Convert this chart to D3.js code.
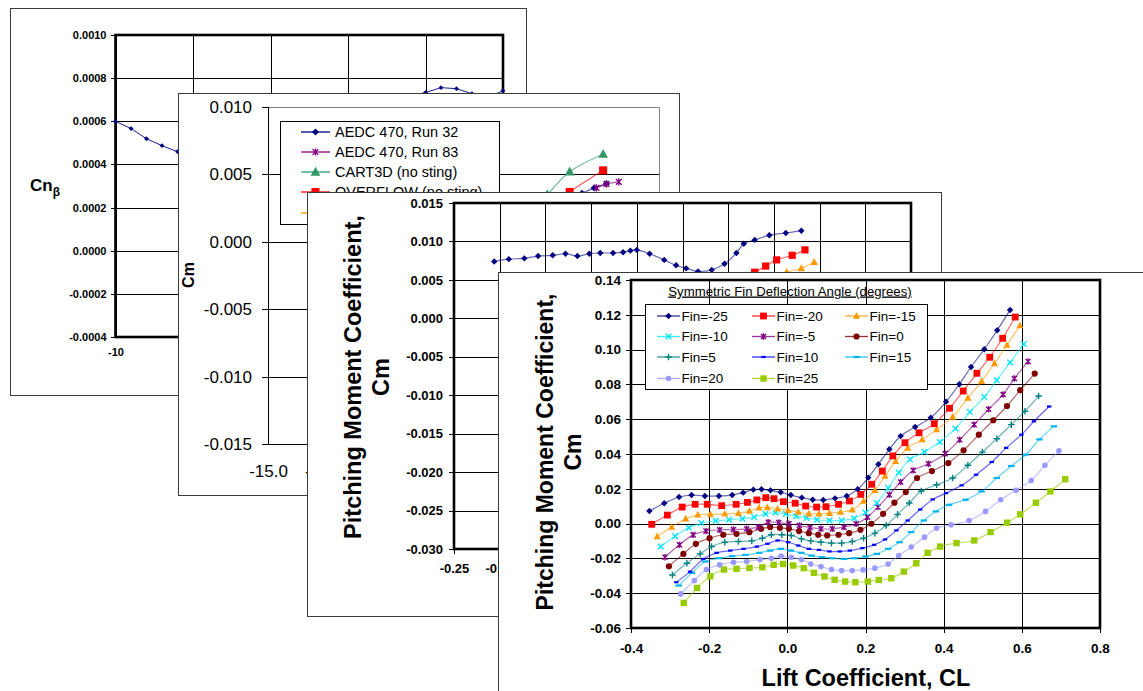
<!DOCTYPE html>
<html><head><meta charset="utf-8">
<script src="https://cdn.jsdelivr.net/npm/d3@7"></script>
<style>
html,body{margin:0;padding:0;background:#fff;}
svg{display:block;}
</style></head><body>
<script>
// ================= DATA =================
// Panel 1 : Cn_beta
const p1X      = [-10, -9, -8, -7, -6, 10, 11, 12, 13, 14, 15];
const p1CnBeta = [0.00060, 0.000566, 0.000519, 0.000487, 0.000459, 0.000733, 0.000756, 0.000751, 0.000728, 0.00071, 0.000742];
const p1XTicks = [-10, -5, 0, 5, 10, 15];
const p1XLabelTicks = [-10];            // the only x label not covered by the next sheet
const p1YTicks = [-0.0004, -0.0002, 0, 0.0002, 0.0004, 0.0006, 0.0008, 0.0010];

// Panel 2 : Cm vs alpha (legend series)
const p2Names  = ["AEDC 470, Run 32", "AEDC 470, Run 83", "CART3D (no sting)", "OVERFLOW (no sting)", ""];
const p2Run32  = [[13.1, 0.0036], [14.2, 0.0040], [15.3, 0.0043]];
const p2Run83  = [[14.4, 0.0040], [15.3, 0.0043], [16.4, 0.00445]];
const p2Cart3d = [[8, 0.0018], [10, 0.0035], [12, 0.0052], [15, 0.0065]];
const p2Overflow = [[10, 0.0025], [12, 0.0037], [15, 0.0053]];
const p2XTicks = [-15, -10, -5, 0, 5, 10, 15, 20];
const p2XLabelTicks = [-15, -10];
const p2YTicks = [-0.015, -0.010, -0.005, 0, 0.005, 0.010];

// Panel 3 : Cm vs CL
const p3Navy = [[-0.206,0.0074],[-0.190,0.0077],[-0.173,0.0078],[-0.158,0.0081],[-0.142,0.0082],[-0.128,0.0084],[-0.115,0.0081],[-0.102,0.0084],[-0.090,0.0085],[-0.076,0.0085],[-0.065,0.0086],[-0.057,0.0088],[-0.050,0.0089],[-0.036,0.0084],[-0.020,0.0076],[-0.007,0.0069],[0.004,0.0065],[0.017,0.0061],[0.032,0.0063],[0.046,0.0071],[0.059,0.0085],[0.067,0.0097],[0.079,0.0102],[0.095,0.0108],[0.113,0.0111],[0.130,0.0114]];
const p3Red    = [[0.062,0.0052],[0.079,0.0060],[0.091,0.0068],[0.103,0.0076],[0.120,0.0082],[0.134,0.0089]];
const p3Orange = [[0.095,0.0052],[0.114,0.0060],[0.130,0.0065],[0.144,0.0073]];
const p3XTicks = [-0.25,-0.20,-0.15,-0.10,-0.05,0,0.05,0.10,0.15,0.20,0.25];
const p3XLabelTicks = [-0.25, -0.20];
const p3YTicks = [-0.030,-0.025,-0.020,-0.015,-0.010,-0.005,0,0.005,0.010,0.015];

// Panel 4 : Cm vs CL for symmetric fin deflection
const finNames = ["Fin=-25","Fin=-20","Fin=-15","Fin=-10","Fin=-5","Fin=0","Fin=5","Fin=10","Fin=15","Fin=20","Fin=25"];
const finM25 = [[-0.353,0.0072],[-0.315,0.0117],[-0.277,0.0153],[-0.245,0.0164],[-0.211,0.0159],[-0.175,0.0159],[-0.141,0.0164],[-0.113,0.0178],[-0.087,0.0195],[-0.066,0.0197],[-0.043,0.0191],[-0.017,0.0180],[0.009,0.0164],[0.037,0.0149],[0.065,0.0137],[0.092,0.0136],[0.122,0.0145],[0.152,0.0159],[0.180,0.0197],[0.207,0.0264],[0.233,0.0341],[0.261,0.0427],[0.290,0.0503],[0.327,0.0555],[0.367,0.0609],[0.406,0.0701],[0.440,0.0801],[0.470,0.0900],[0.504,0.1002],[0.537,0.1111],[0.570,0.1228]];
const finM20 = [[-0.347,-0.0004],[-0.307,0.0049],[-0.269,0.0095],[-0.236,0.0111],[-0.205,0.0111],[-0.168,0.0103],[-0.131,0.0111],[-0.102,0.0122],[-0.078,0.0136],[-0.055,0.0149],[-0.034,0.0143],[-0.010,0.0126],[0.020,0.0117],[0.047,0.0101],[0.075,0.0095],[0.099,0.0097],[0.131,0.0111],[0.159,0.0130],[0.188,0.0168],[0.216,0.0226],[0.243,0.0302],[0.270,0.0389],[0.301,0.0465],[0.337,0.0522],[0.376,0.0574],[0.415,0.0663],[0.450,0.0762],[0.485,0.0864],[0.518,0.0956],[0.551,0.1065],[0.583,0.1187]];
const finM15 = [[-0.333,-0.0074],[-0.296,-0.0020],[-0.260,0.0028],[-0.229,0.0051],[-0.197,0.0053],[-0.160,0.0056],[-0.125,0.0060],[-0.097,0.0072],[-0.072,0.0091],[-0.051,0.0093],[-0.025,0.0085],[0.002,0.0076],[0.028,0.0066],[0.055,0.0056],[0.081,0.0056],[0.108,0.0060],[0.136,0.0066],[0.166,0.0079],[0.195,0.0129],[0.224,0.0191],[0.250,0.0273],[0.277,0.0358],[0.308,0.0435],[0.345,0.0483],[0.382,0.0540],[0.423,0.0613],[0.462,0.0722],[0.497,0.0818],[0.530,0.0920],[0.562,0.1026],[0.595,0.1138]];
const finM10 = [[-0.324,-0.0132],[-0.287,-0.0072],[-0.252,-0.0024],[-0.220,0.0003],[-0.183,0.0016],[-0.149,0.0022],[-0.115,0.0028],[-0.085,0.0037],[-0.056,0.0056],[-0.030,0.0062],[-0.004,0.0056],[0.023,0.0043],[0.049,0.0033],[0.076,0.0022],[0.108,0.0018],[0.139,0.0018],[0.171,0.0031],[0.200,0.0062],[0.229,0.0118],[0.258,0.0204],[0.285,0.0293],[0.314,0.0369],[0.351,0.0412],[0.390,0.0469],[0.430,0.0546],[0.467,0.0642],[0.504,0.0728],[0.536,0.0824],[0.570,0.0926],[0.605,0.1032]];
const finM5 = [[-0.313,-0.0193],[-0.276,-0.0122],[-0.241,-0.0065],[-0.208,-0.0043],[-0.173,-0.0036],[-0.138,-0.0034],[-0.104,-0.0030],[-0.074,-0.0020],[-0.049,0.0008],[-0.022,0.0006],[0.004,-0.0001],[0.031,-0.0011],[0.058,-0.0022],[0.086,-0.0030],[0.115,-0.0030],[0.145,-0.0020],[0.176,-0.0001],[0.205,0.0037],[0.232,0.0095],[0.261,0.0166],[0.290,0.0239],[0.322,0.0306],[0.361,0.0344],[0.404,0.0402],[0.441,0.0482],[0.478,0.0569],[0.515,0.0657],[0.552,0.0742],[0.581,0.0834],[0.616,0.0932]];
const fin0 = [[-0.303,-0.0245],[-0.266,-0.0174],[-0.234,-0.0116],[-0.199,-0.0084],[-0.164,-0.0064],[-0.130,-0.0059],[-0.097,-0.0049],[-0.067,-0.0030],[-0.044,-0.0020],[-0.019,-0.0024],[0.004,-0.0030],[0.030,-0.0043],[0.055,-0.0055],[0.079,-0.0064],[0.102,-0.0068],[0.131,-0.0064],[0.158,-0.0055],[0.187,-0.0036],[0.215,-0.0001],[0.245,0.0056],[0.274,0.0120],[0.303,0.0181],[0.332,0.0262],[0.370,0.0302],[0.412,0.0348],[0.451,0.0421],[0.490,0.0511],[0.527,0.0594],[0.562,0.0676],[0.596,0.0767],[0.633,0.0862]];
const finP5 = [[-0.294,-0.0295],[-0.257,-0.0228],[-0.223,-0.0174],[-0.194,-0.0132],[-0.160,-0.0107],[-0.125,-0.0103],[-0.091,-0.0099],[-0.064,-0.0084],[-0.041,-0.0064],[-0.014,-0.0064],[0.010,-0.0068],[0.036,-0.0088],[0.060,-0.0099],[0.086,-0.0107],[0.113,-0.0112],[0.139,-0.0112],[0.166,-0.0103],[0.195,-0.0084],[0.224,-0.0055],[0.253,-0.0011],[0.282,0.0053],[0.312,0.0118],[0.343,0.0187],[0.382,0.0223],[0.423,0.0262],[0.462,0.0335],[0.499,0.0411],[0.536,0.0488],[0.573,0.0569],[0.608,0.0646],[0.643,0.0733]];
const finP10 = [[-0.284,-0.0337],[-0.249,-0.0276],[-0.215,-0.0203],[-0.181,-0.0168],[-0.146,-0.0155],[-0.112,-0.0145],[-0.078,-0.0132],[-0.051,-0.0116],[-0.025,-0.0097],[0.002,-0.0107],[0.028,-0.0126],[0.055,-0.0145],[0.081,-0.0151],[0.108,-0.0160],[0.134,-0.0160],[0.160,-0.0155],[0.192,-0.0141],[0.222,-0.0122],[0.250,-0.0091],[0.279,-0.0039],[0.308,0.0018],[0.340,0.0081],[0.372,0.0139],[0.406,0.0175],[0.446,0.0220],[0.483,0.0281],[0.523,0.0354],[0.560,0.0435],[0.599,0.0511],[0.631,0.0588],[0.670,0.0673]];
const finP15 = [[-0.278,-0.0356],[-0.244,-0.0283],[-0.210,-0.0218],[-0.175,-0.0199],[-0.141,-0.0187],[-0.107,-0.0180],[-0.072,-0.0168],[-0.044,-0.0155],[-0.017,-0.0145],[0.009,-0.0155],[0.036,-0.0168],[0.062,-0.0184],[0.089,-0.0193],[0.115,-0.0199],[0.145,-0.0203],[0.171,-0.0199],[0.200,-0.0189],[0.229,-0.0174],[0.258,-0.0145],[0.287,-0.0107],[0.317,-0.0049],[0.349,0.0018],[0.380,0.0070],[0.414,0.0108],[0.456,0.0137],[0.497,0.0185],[0.536,0.0262],[0.573,0.0331],[0.610,0.0396],[0.645,0.0484],[0.682,0.0559]];
const finP20 = [[-0.273,-0.0404],[-0.238,-0.0327],[-0.207,-0.0264],[-0.173,-0.0237],[-0.138,-0.0222],[-0.104,-0.0218],[-0.070,-0.0207],[-0.041,-0.0199],[-0.016,-0.0187],[0.010,-0.0193],[0.036,-0.0207],[0.060,-0.0232],[0.086,-0.0247],[0.113,-0.0264],[0.139,-0.0270],[0.166,-0.0270],[0.194,-0.0266],[0.224,-0.0256],[0.258,-0.0232],[0.285,-0.0183],[0.317,-0.0135],[0.351,-0.0078],[0.382,-0.0026],[0.419,-0.0007],[0.465,0.0018],[0.507,0.0070],[0.546,0.0137],[0.585,0.0191],[0.624,0.0248],[0.659,0.0335],[0.695,0.0418]];
const finP25 = [[-0.265,-0.0456],[-0.231,-0.0370],[-0.197,-0.0303],[-0.162,-0.0264],[-0.130,-0.0260],[-0.097,-0.0255],[-0.064,-0.0251],[-0.035,-0.0237],[-0.011,-0.0232],[0.015,-0.0241],[0.042,-0.0256],[0.068,-0.0283],[0.095,-0.0304],[0.121,-0.0323],[0.148,-0.0333],[0.174,-0.0337],[0.206,-0.0333],[0.234,-0.0324],[0.266,-0.0314],[0.298,-0.0276],[0.330,-0.0228],[0.359,-0.0168],[0.391,-0.0132],[0.433,-0.0112],[0.478,-0.0097],[0.520,-0.0049],[0.562,0.0005],[0.596,0.0053],[0.636,0.0120],[0.673,0.0185],[0.711,0.0255]];
const p4XTicks = [-0.4,-0.2,0,0.2,0.4,0.6,0.8];
const p4YTicks = [-0.06,-0.04,-0.02,0,0.02,0.04,0.06,0.08,0.10,0.12,0.14];

// ================= STYLES =================
const FONT = '"Liberation Sans", Arial, Helvetica, sans-serif';
const finStyles = [
  {color:'#000080', marker:'diamond',  size:3.2},
  {color:'#ff0000', marker:'square',   size:3.4},
  {color:'#ff9900', marker:'triangle', size:3.4},
  {color:'#00e5ff', marker:'x',        size:2.8},
  {color:'#800080', marker:'asterisk', size:3.2},
  {color:'#800000', marker:'circle',   size:3.1},
  {color:'#008080', marker:'plus',     size:3.3},
  {color:'#0000ff', marker:'dash',     size:2.2},
  {color:'#00b4f0', marker:'dash',     size:3.2},
  {color:'#9999ff', marker:'circle',   size:2.8},
  {color:'#99cc00', marker:'square',   size:3.2}
];
const finData = [finM25, finM20, finM15, finM10, finM5, fin0, finP5, finP10, finP15, finP20, finP25];

const svg = d3.select('body').append('svg').attr('width',1143).attr('height',691)
  .attr('font-family', FONT);

function marker(g, type, color, s){
  switch(type){
    case 'diamond': g.append('path').attr('d',`M0,${-s}L${s},0L0,${s}L${-s},0Z`).attr('fill',color); break;
    case 'square': g.append('rect').attr('x',-s).attr('y',-s).attr('width',2*s).attr('height',2*s).attr('fill',color); break;
    case 'triangle': g.append('path').attr('d',`M0,${-s*1.15}L${s*1.05},${s*0.8}L${-s*1.05},${s*0.8}Z`).attr('fill',color); break;
    case 'circle': g.append('circle').attr('r',s).attr('fill',color); break;
    case 'x': g.append('path').attr('d',`M${-s},${-s}L${s},${s}M${-s},${s}L${s},${-s}`).attr('stroke',color).attr('stroke-width',1.4); break;
    case 'asterisk': g.append('path').attr('d',`M${-s*0.8},${-s*0.8}L${s*0.8},${s*0.8}M${-s*0.8},${s*0.8}L${s*0.8},${-s*0.8}M0,${-s}L0,${s}`).attr('stroke',color).attr('stroke-width',1.4); break;
    case 'plus': g.append('path').attr('d',`M${-s},0L${s},0M0,${-s}L0,${s}`).attr('stroke',color).attr('stroke-width',1.4); break;
    case 'dash': g.append('rect').attr('x',-s).attr('y',-1.1).attr('width',2*s).attr('height',2.2).attr('fill',color); break;
  }
}

function drawSeries(g, x, y, data, st, curve, lw, op){
  const line = d3.line().x(d=>x(d[0])).y(d=>y(d[1])).curve(curve || d3.curveCatmullRom.alpha(0.5));
  g.append('path').datum(data).attr('d', line).attr('fill','none')
    .attr('stroke', st.color).attr('stroke-opacity', op==null?0.6:op).attr('stroke-width', lw||1.2);
  g.append('g').selectAll('g').data(data).join('g')
    .attr('transform', d=>`translate(${x(d[0])},${y(d[1])})`)
    .each(function(){ marker(d3.select(this), st.marker, st.color, st.size); });
}

function panelBox(x0,y0,x1,y1,stroke){
  const g = svg.append('g');
  g.append('rect').attr('x',x0+0.5).attr('y',y0+0.5).attr('width',x1-x0).attr('height',y1-y0)
    .attr('fill','#fff').attr('stroke',stroke||'#3a3a3a').attr('stroke-width',1);
  return g;
}

function grid(g, x, y, xt, yt, color){
  const [xa,xb] = x.range(), [ya,yb] = y.range();
  if (yt) g.append('g').attr('transform',`translate(${xa},0)`)
    .call(d3.axisLeft(y).tickValues(yt).tickSize(-(xb-xa)).tickFormat(''))
    .call(s=>{s.select('.domain').remove(); s.selectAll('line').attr('stroke',color||'#000').attr('shape-rendering','crispEdges');});
  if (xt) g.append('g').attr('transform',`translate(0,${ya})`)
    .call(d3.axisBottom(x).tickValues(xt).tickSize(-(ya-yb)).tickFormat(''))
    .call(s=>{s.select('.domain').remove(); s.selectAll('line').attr('stroke',color||'#000').attr('shape-rendering','crispEdges');});
}

function styleAxis(s, fs, fw){
  s.attr('font-family', FONT).attr('font-size', fs);
  s.select('.domain').remove();
  s.selectAll('line').attr('stroke','#000').attr('shape-rendering','crispEdges');
  s.selectAll('text').attr('fill','#000').attr('font-weight', fw);
}

function yAxis(g, y, xpos, ticks, fmt, size, pad, fs, fw){
  g.append('g').attr('transform',`translate(${xpos},0)`)
    .call(d3.axisLeft(y).tickValues(ticks).tickSize(size).tickPadding(pad).tickFormat(fmt))
    .call(s=>styleAxis(s, fs, fw));
}
function xAxis(g, x, ypos, ticks, fmt, size, pad, fs, fw){
  g.append('g').attr('transform',`translate(0,${ypos})`)
    .call(d3.axisBottom(x).tickValues(ticks).tickSize(size).tickPadding(pad).tickFormat(fmt))
    .call(s=>styleAxis(s, fs, fw));
}
function border(g, x, y, w, color){
  const [xa,xb] = x.range(), [ya,yb] = y.range();
  g.append('rect').attr('x',xa).attr('y',yb).attr('width',xb-xa).attr('height',ya-yb)
    .attr('fill','none').attr('stroke',color||'#000').attr('stroke-width',w);
}
function vText(g, txt, x, y, fs, fw){
  g.append('text').attr('transform',`translate(${x},${y}) rotate(-90)`).attr('text-anchor','middle')
    .attr('font-size',fs).attr('font-weight',fw||'bold').attr('fill','#000').text(txt);
}

// ================= PANEL 1 =================
{
  const g = panelBox(10, 8, 526, 395);
  const x = d3.scaleLinear().domain([-10,15]).range([115.5,503]);
  const y = d3.scaleLinear().domain([-0.0004,0.0010]).range([337,35]);
  grid(g, x, y, p1XTicks, p1YTicks);
  yAxis(g, y, 115.5, p1YTicks, d=>d.toFixed(4), 5, 4, 11, 'bold');
  xAxis(g, x, 337, p1XLabelTicks, d=>String(d), 0, 11, 11, 'bold');
  border(g, x, y, 2.6);
  drawSeries(g, x, y, d3.zip(p1X, p1CnBeta), {color:'#000080', marker:'diamond', size:2.4}, d3.curveLinear, 1, 0.9);
  const t = g.append('text').attr('x',30).attr('y',191).attr('font-size',17).attr('font-weight','bold').attr('fill','#000');
  t.append('tspan').text('Cn');
  t.append('tspan').attr('font-size',12).attr('dy',5).text('β');
}

// ================= PANEL 2 =================
{
  const g = panelBox(178, 93, 679, 495);
  const x = d3.scaleLinear().domain([-15,20]).range([268,659]);
  const y = d3.scaleLinear().domain([-0.015,0.010]).range([444,107]);
  grid(g, x, y, null, p2YTicks);
  g.append('path').attr('d',`M${x.range()[0]},107.5H659.5V444`).attr('fill','none').attr('stroke','#808080').attr('stroke-width',1);
  g.append('line').attr('x1',268.5).attr('x2',268.5).attr('y1',107).attr('y2',444).attr('stroke','#000');
  yAxis(g, y, 268, p2YTicks, d=>d.toFixed(3), 6, 10, 17, 'normal');
  xAxis(g, x, 444, p2XLabelTicks, d=>d.toFixed(1), 0, 21, 17, 'normal');
  vText(g, 'Cm', 194, 275, 16, 'bold');
  const st2 = [
    {color:'#000080', marker:'diamond',  size:3.6},
    {color:'#800080', marker:'asterisk', size:3.6},
    {color:'#339966', marker:'triangle', size:4.6},
    {color:'#ff0000', marker:'square',   size:4.0},
    {color:'#ff9900', marker:'circle',   size:3.0}
  ];
  const d2 = [p2Run32, p2Run83, p2Cart3d, p2Overflow];
  [2,3,0,1].forEach(i=>drawSeries(g, x, y, d2[i], st2[i], null, 1.2, 0.65));
  const lg = g.append('g');
  lg.append('rect').attr('x',280.5).attr('y',121.5).attr('width',219).attr('height',103).attr('fill','#fff').attr('stroke','#000');
  const rows = [132, 152, 172, 192, 213];
  p2Names.forEach((n,i)=>{
    const r = lg.append('g').attr('transform',`translate(0,${rows[i]})`);
    r.append('line').attr('x1',301).attr('x2',330).attr('stroke',st2[i].color).attr('stroke-width',1.3);
    if (i<4) marker(r.append('g').attr('transform','translate(315.5,0)'), st2[i].marker, st2[i].color, st2[i].size);
    if (n) r.append('text').attr('x',335).attr('y',5.3).attr('font-size',14.5).attr('fill','#000').text(n);
  });
}

// ================= PANEL 3 =================
{
  const g = panelBox(307, 192, 941, 616);
  const x = d3.scaleLinear().domain([-0.25,0.25]).range([454,911]);
  const y = d3.scaleLinear().domain([-0.030,0.015]).range([549,203]);
  grid(g, x, y, p3XTicks, p3YTicks);
  yAxis(g, y, 454, p3YTicks, d=>d.toFixed(3), 5, 6, 13, 'bold');
  xAxis(g, x, 549, p3XLabelTicks, d=>d.toFixed(2), 5, 10, 13, 'bold');
  border(g, x, y, 2.6);
  vText(g, 'Pitching Moment Coefficient,', 361, 377, 23.5);
  vText(g, 'Cm', 389, 377, 23.5);
  drawSeries(g, x, y, p3Orange, {color:'#ff9900', marker:'triangle', size:3.6});
  drawSeries(g, x, y, p3Red,    {color:'#ff0000', marker:'square',   size:3.6});
  drawSeries(g, x, y, p3Navy,   {color:'#000080', marker:'diamond',  size:3.2});
}

// ================= PANEL 4 =================
{
  const g = panelBox(498, 272, 1200, 760);
  const x = d3.scaleLinear().domain([-0.4,0.8]).range([631,1100]);
  const y = d3.scaleLinear().domain([-0.06,0.14]).range([628,280]);
  grid(g, x, y, p4XTicks, p4YTicks);
  yAxis(g, y, 631, p4YTicks, d=>d.toFixed(2), 5, 5, 13.5, 'bold');
  xAxis(g, x, 628, p4XTicks, d=>d.toFixed(1), 5, 10, 13.5, 'bold');
  vText(g, 'Pitching Moment Coefficient,', 553, 452, 23);
  vText(g, 'Cm', 581, 452, 23);
  g.append('text').attr('x',866).attr('y',686).attr('text-anchor','middle').attr('font-size',23.5)
    .attr('font-weight','bold').attr('fill','#000').text('Lift Coefficient, CL');
  g.append('text').attr('x',790).attr('y',295.5).attr('text-anchor','middle').attr('font-size',13.2)
    .attr('fill','#000').attr('text-decoration','underline').text('Symmetric Fin Deflection Angle (degrees)');
  g.append('rect').attr('x',645.5).attr('y',304.5).attr('width',282).attr('height',85).attr('fill','#fff').attr('stroke','#000');
  const colX = [657, 752, 845], rowY = [316, 336.5, 357, 378.5];
  finNames.forEach((n,i)=>{
    const cx = colX[i%3], cy = rowY[Math.floor(i/3)];
    const r = g.append('g').attr('transform',`translate(${cx},${cy})`);
    r.append('line').attr('x1',0).attr('x2',23).attr('stroke',finStyles[i].color).attr('stroke-width',1.3).attr('stroke-opacity',0.8);
    marker(r.append('g').attr('transform','translate(11.5,0)'), finStyles[i].marker, finStyles[i].color, finStyles[i].size);
    r.append('text').attr('x',24.5).attr('y',4.8).attr('font-size',13.5).attr('fill','#000').text(n);
  });
  border(g, x, y, 2.6);
  for (let i=finData.length-1;i>=0;i--) drawSeries(g, x, y, finData[i], finStyles[i]);
}
</script>
</body></html>
